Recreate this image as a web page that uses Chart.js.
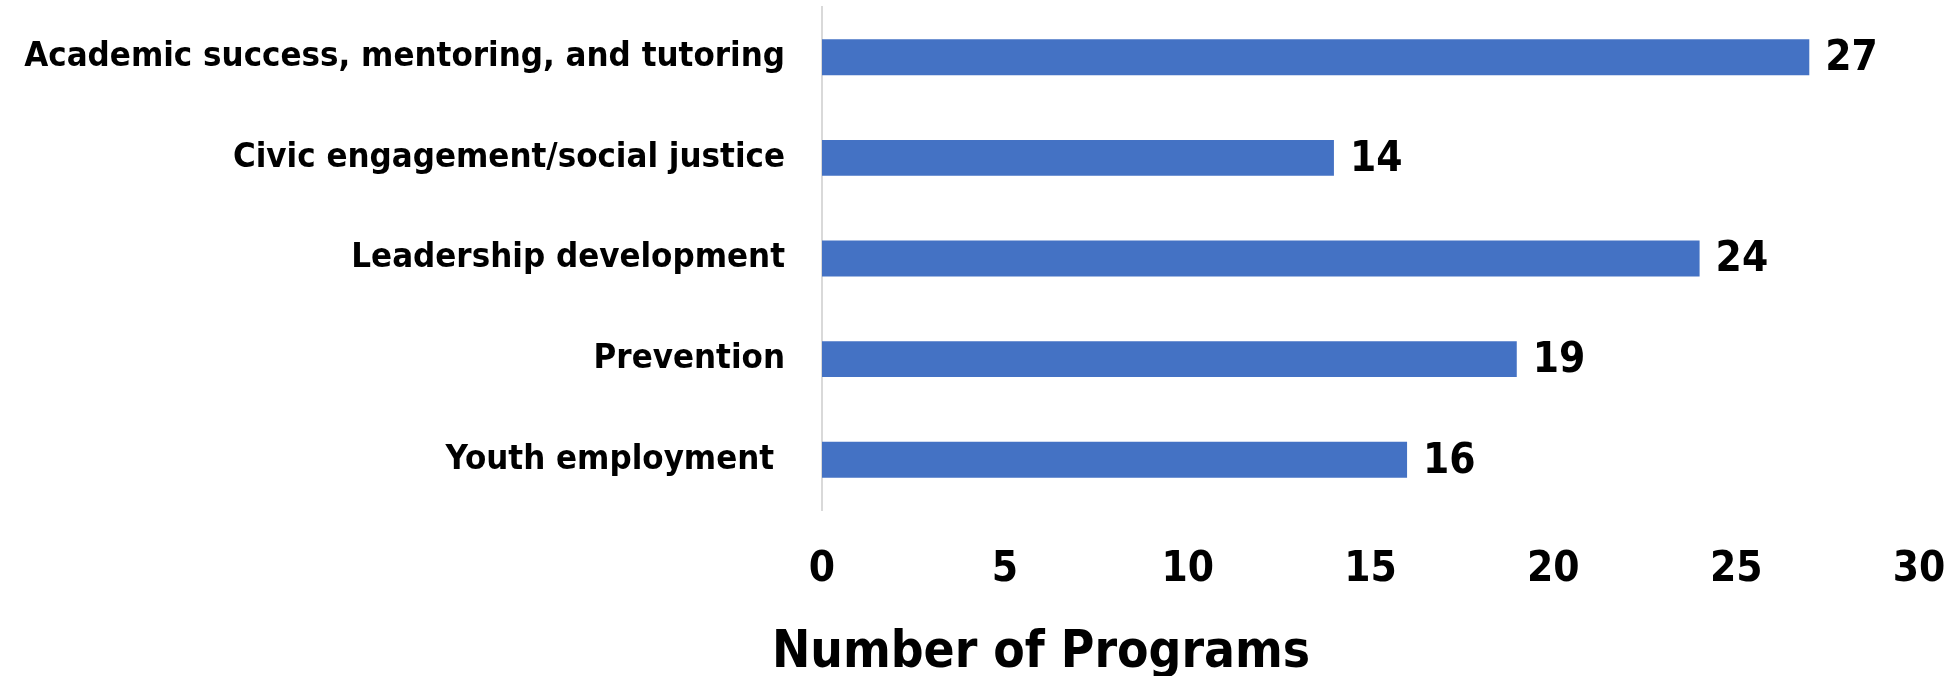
<!DOCTYPE html>
<html>
<head>
<meta charset="utf-8">
<script src="https://cdn.jsdelivr.net/npm/chart.js@4"></script>
<style>
  html, body { margin: 0; padding: 0; background: #fff; }
  #wrap { width: 1954px; height: 676px; }
</style>
</head>
<body>
<div id="wrap"><canvas id="myChart" width="1954" height="676"></canvas></div>
<script>
var categories = ["Academic success, mentoring, and tutoring", "Civic engagement/social justice", "Leadership development", "Prevention", "Youth employment "];
var programs = [27, 14, 24, 19, 16];
var xTicks = [0, 5, 10, 15, 20, 25, 30];
var axisTitle = "Number of Programs";

var FONT = "'Liberation Sans Narrow', 'Arial Narrow', 'DejaVu Sans Condensed', sans-serif";

// value labels at the end of each bar + axis title under the ticks
var barValues = {
  id: 'barValues',
  afterDatasetsDraw: function(chart) {
    var ctx = chart.ctx;
    ctx.save();
    ctx.font = "bold 42px " + FONT;
    ctx.fillStyle = "#000";
    ctx.textAlign = "left";
    ctx.textBaseline = "middle";
    chart.getDatasetMeta(0).data.forEach(function(bar, i) {
      ctx.fillText(programs[i], bar.x + 16, bar.y + 2);
    });
    ctx.restore();
  },
  afterDraw: function(chart) {
    var ctx = chart.ctx;
    ctx.save();
    ctx.font = "bold 51px " + FONT;
    ctx.fillStyle = "#000";
    ctx.textAlign = "center";
    ctx.textBaseline = "alphabetic";
    ctx.fillText(axisTitle, 1041, chart.height - 9);
    ctx.restore();
  }
};

new Chart(document.getElementById("myChart"), {
  type: 'bar',
  data: {
    labels: categories,
    datasets: [{
      label: axisTitle,
      backgroundColor: "#4472C4",
      data: programs,
      barPercentage: 0.714,
      categoryPercentage: 0.5
    }]
  },
  options: {
    indexAxis: 'y',
    responsive: false,
    animation: false,
    layout: { padding: { top: 7, right: 35, left: 0, bottom: 0 } },
    plugins: {
      legend: { display: false },
      tooltip: { enabled: false },
      title: { display: false }
    },
    scales: {
      x: {
        min: 0,
        max: 30,
        afterBuildTicks: function(scale) {
          scale.ticks = xTicks.map(function(v) { return { value: v }; });
        },
        afterFit: function(scale) {
          scale.height = 166;
          scale.paddingLeft = 0;
          scale.paddingRight = 0;
        },
        grid: { display: false, drawTicks: false },
        border: { display: false },
        ticks: {
          padding: 35,
          color: "#000",
          font: { family: FONT, size: 42, weight: 'bold' }
        }
      },
      y: {
        afterFit: function(scale) {
          scale.width = 822;
          scale.paddingTop = 0;
          scale.paddingBottom = 0;
        },
        grid: { display: false, drawTicks: false },
        border: { display: true, color: "#d9d9d9", width: 2 },
        ticks: {
          padding: 37,
          color: "#000",
          font: { family: FONT, size: 34.5, weight: 'bold' }
        }
      }
    }
  },
  plugins: [barValues]
});
</script>
</body>
</html>
